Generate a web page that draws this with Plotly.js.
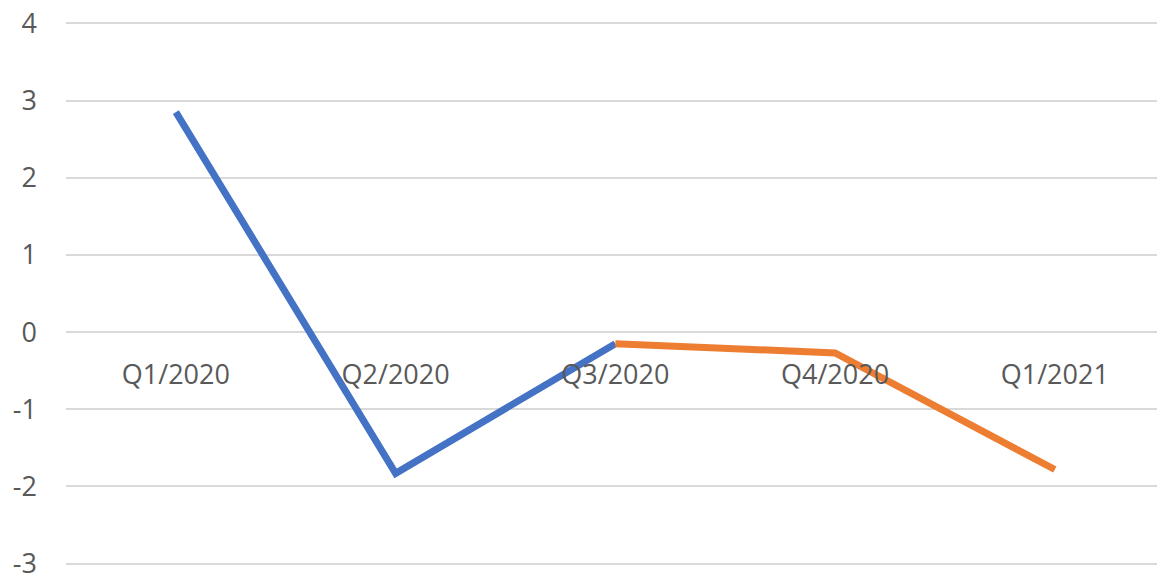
<!DOCTYPE html>
<html>
<head>
<meta charset="utf-8">
<script src="https://cdn.plot.ly/plotly-3.0.1.min.js"></script>
<style>html,body{margin:0;padding:0;background:#fff;}#chart{width:1157px;height:575px;}</style>
</head>
<body>
<div id="chart"></div>
<script>
const categories = ["Q1/2020", "Q2/2020", "Q3/2020", "Q4/2020", "Q1/2021"];
const seriesBlue = [2.85, -1.83, -0.15, null, null];
const seriesOrange = [null, null, -0.15, -0.27, -1.78];
const yTicks = [-3, -2, -1, 0, 1, 2, 3, 4];

const font = {family: "Open Sans, Liberation Sans, sans-serif", size: 27, color: "#595959"};
const yMin = -3.03, yMax = 4.03;

const traces = [
  {x: categories, y: seriesBlue, type: "scatter", mode: "lines",
   line: {color: "#4472C4", width: 7}, connectgaps: false, hoverinfo: "skip"},
  {x: categories, y: seriesOrange, type: "scatter", mode: "lines",
   line: {color: "#ED7D31", width: 7}, connectgaps: false, hoverinfo: "skip"}
];

const layout = {
  width: 1157, height: 575,
  margin: {l: 66, r: 0, t: 21, b: 9},
  paper_bgcolor: "#fff", plot_bgcolor: "#fff",
  showlegend: false,
  font: font,
  xaxis: {
    type: "category", categoryorder: "array", categoryarray: categories,
    range: [-0.5, 4.465],
    anchor: "free", position: (0 - yMin) / (yMax - yMin),
    showgrid: false, showline: false, zeroline: false, ticks: "",
    ticklabelstandoff: 24,
    tickfont: font
  },
  yaxis: {
    range: [yMin, yMax], tickvals: yTicks, ticktext: yTicks.map(String),
    showgrid: true, gridcolor: "#d9d9d9", gridwidth: 2,
    zeroline: false, showline: false, ticks: "",
    ticklabelstandoff: 28, ticklabeloverflow: "allow", automargin: false,
    tickfont: font
  }
};

Plotly.newPlot("chart", traces, layout, {displayModeBar: false, staticPlot: true});
</script>
</body>
</html>
